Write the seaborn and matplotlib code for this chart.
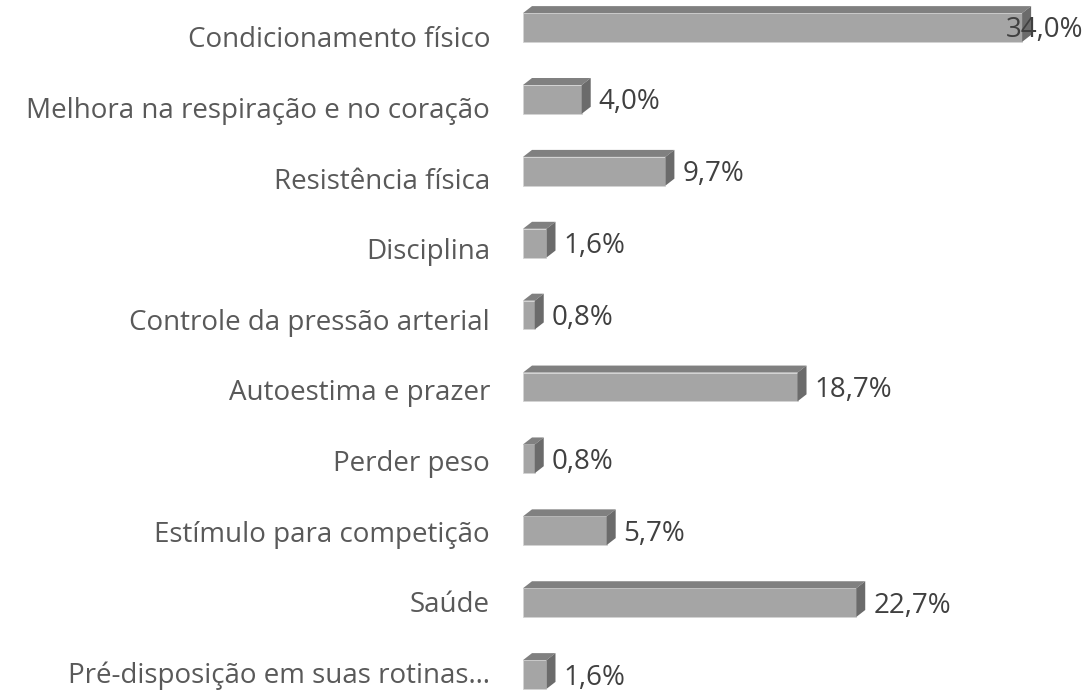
import numpy as np
import pandas as pd
import matplotlib
matplotlib.use("Agg")
import matplotlib.pyplot as plt
import matplotlib.transforms as mtransforms
from matplotlib.patches import Polygon
import seaborn as sns

categories = [
    "Condicionamento físico",
    "Melhora na respiração e no coração",
    "Resistência física",
    "Disciplina",
    "Controle da pressão arterial",
    "Autoestima e prazer",
    "Perder peso",
    "Estímulo para competição",
    "Saúde",
    "Pré-disposição em suas rotinas…",
]
values = [34.0, 4.0, 9.7, 1.6, 0.8, 18.7, 0.8, 5.7, 22.7, 1.6]
value_labels = ["34,0%", "4,0%", "9,7%", "1,6%", "0,8%", "18,7%", "0,8%", "5,7%", "22,7%", "1,6%"]

sns.set_theme(style="white")
plt.rcParams["font.family"] = ["Open Sans", "DejaVu Sans"]

W, H, DPI = 1089, 696, 100
fig = plt.figure(figsize=(W / DPI, H / DPI), dpi=DPI)
fig.patch.set_facecolor("white")

x0_px = 523.0
px_per_unit = 14.68
row_px = 71.9
ax = fig.add_axes([x0_px / W, 0.0, 1 - x0_px / W, 1.0])

df = pd.DataFrame({"categoria": categories, "valor": values})
front_color = "#a5a5a5"
top_color = "#808080"
side_color = "#6b6b6b"
sns.barplot(data=df, x="valor", y="categoria", orient="h", color=front_color,
            width=0.40, saturation=1, ax=ax, zorder=2)

xmax = (W - x0_px) / px_per_unit
ax.set_xlim(0, xmax)
ax.set_ylim(9 + 21.5 / row_px, -27.5 / row_px)

# depth of the 3D extrusion in data units
dx = 9.0 / px_per_unit
dy = 7.0 / row_px

for bar in list(ax.patches):
    bar.set_edgecolor("#d4d4d4")
    bar.set_linewidth(0.6)
    x = bar.get_x()
    w = bar.get_width()
    y_top = bar.get_y()
    y_bot = y_top + bar.get_height()
    top = Polygon([(x, y_top), (x + w, y_top), (x + w + dx, y_top - dy), (x + dx, y_top - dy)],
                  closed=True, facecolor=top_color, edgecolor="none", zorder=2)
    side = Polygon([(x + w, y_top), (x + w + dx, y_top - dy), (x + w + dx, y_bot - dy), (x + w, y_bot)],
                   closed=True, facecolor=side_color, edgecolor="none", zorder=2)
    ax.add_patch(top)
    ax.add_patch(side)

cat_color = "#595959"
val_color = "#404040"
fs = 20
label_right_limit = xmax - 6.0 / px_per_unit
for i, (v, lab) in enumerate(zip(values, value_labels)):
    xpos = v + 17.0 / px_per_unit
    t = ax.text(xpos, i + 3.0 / row_px, lab, ha="left", va="center",
                fontsize=fs, color=val_color, zorder=3)
    fig.canvas.draw()
    bb = t.get_window_extent()
    right_data = ax.transData.inverted().transform((bb.x1, 0))[0]
    if right_data > xmax:
        t.set_x(label_right_limit)
        t.set_ha("right")

ax.set_yticks(range(len(categories)))
ax.set_yticklabels(categories, fontsize=fs, color=cat_color)
ax.tick_params(axis="y", length=0, pad=33 * 0.72)
for i, tl in enumerate(ax.get_yticklabels()):
    off = (9.5 - 1.3 * i) / DPI
    tl.set_transform(tl.get_transform() + mtransforms.ScaledTranslation(0, -off, fig.dpi_scale_trans))

ax.set_xticks([])
ax.set_xlabel("")
ax.set_ylabel("")
for s in ax.spines.values():
    s.set_visible(False)
ax.set_facecolor("none")

fig.savefig("out.png", dpi=DPI, facecolor="white")
